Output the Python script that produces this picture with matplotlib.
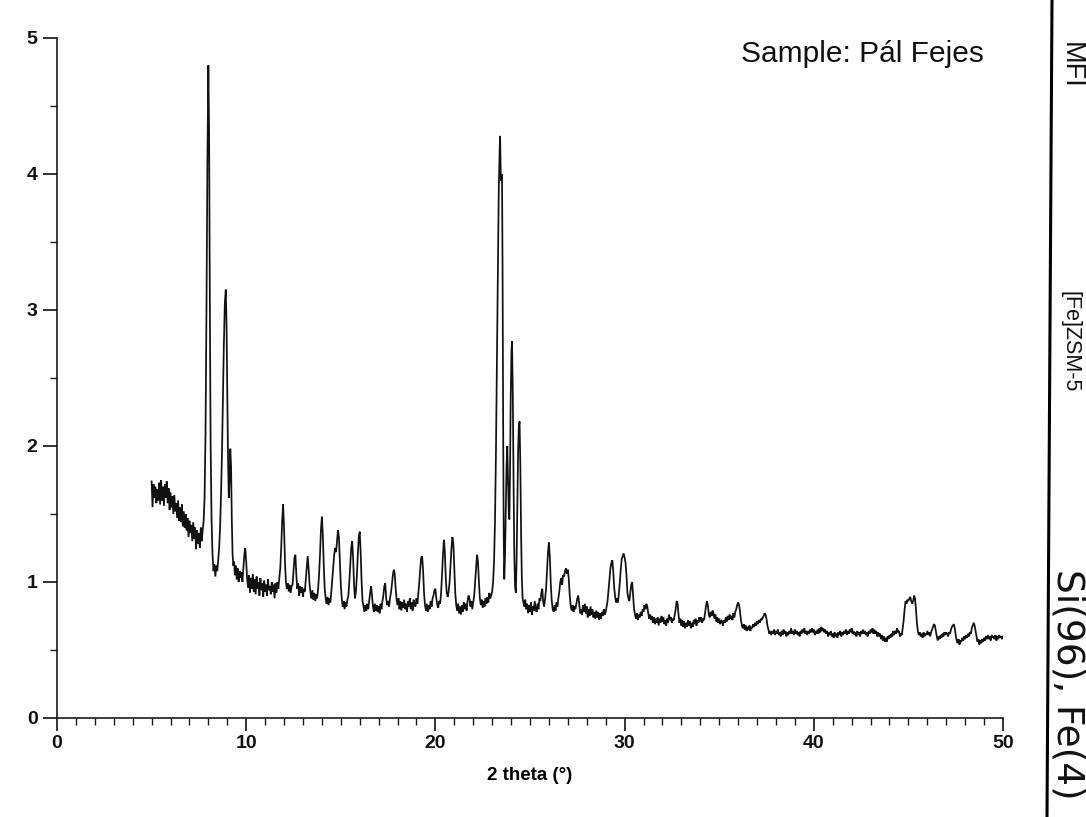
import matplotlib
matplotlib.use("Agg")
import matplotlib.pyplot as plt
from matplotlib.ticker import MultipleLocator
from matplotlib.lines import Line2D

# ---- data: (2 theta, intensity) ----
low_angle = [
    (5.00, 1.74), (5.05, 1.55), (5.10, 1.72), (5.15, 1.62), (5.20, 1.70), (5.25, 1.58), (5.30, 1.68), (5.35, 1.60),
    (5.40, 1.73), (5.45, 1.57), (5.50, 1.75), (5.55, 1.60), (5.60, 1.70), (5.65, 1.56), (5.70, 1.72), (5.75, 1.62),
    (5.80, 1.74), (5.85, 1.58), (5.90, 1.69), (5.95, 1.53), (6.00, 1.66), (6.05, 1.55), (6.10, 1.63), (6.15, 1.50),
    (6.20, 1.64), (6.25, 1.52), (6.30, 1.58), (6.35, 1.47), (6.40, 1.60), (6.45, 1.45), (6.50, 1.55), (6.55, 1.44),
    (6.60, 1.57), (6.65, 1.41), (6.70, 1.52), (6.75, 1.40), (6.80, 1.50), (6.85, 1.38), (6.90, 1.47), (6.95, 1.33),
    (7.00, 1.45), (7.05, 1.36), (7.10, 1.42), (7.15, 1.30), (7.20, 1.44), (7.25, 1.32), (7.30, 1.40), (7.35, 1.24),
    (7.40, 1.38), (7.45, 1.28), (7.50, 1.36), (7.55, 1.25), (7.60, 1.40), (7.65, 1.30), (7.70, 1.38),
]
first_peaks = [
    (7.75, 1.45), (7.80, 1.62), (7.85, 2.10), (7.90, 3.00), (7.95, 4.10), (8.00, 4.80), (8.04, 4.30), (8.08, 3.00),
    (8.12, 2.00), (8.17, 1.45), (8.22, 1.20), (8.27, 1.08), (8.32, 1.13), (8.37, 1.04), (8.42, 1.12), (8.47, 1.08),
    (8.52, 1.16), (8.57, 1.25), (8.62, 1.40), (8.67, 1.65), (8.72, 1.95), (8.77, 2.35), (8.82, 2.75), (8.87, 3.05),
    (8.92, 3.15), (8.96, 2.90), (9.00, 2.40), (9.04, 1.90), (9.08, 1.62), (9.12, 1.75), (9.16, 1.98), (9.20, 1.85),
    (9.24, 1.45), (9.28, 1.20), (9.32, 1.12), (9.36, 1.15), (9.40, 1.05), (9.45, 1.12), (9.50, 1.02), (9.55, 1.10),
    (9.60, 1.00), (9.65, 1.08), (9.70, 1.03), (9.75, 1.07), (9.80, 1.00), (9.85, 1.10), (9.90, 1.20), (9.95, 1.25),
    (10.00, 1.15), (10.05, 1.02),
]
mid_angle = [
    (10.10, 0.96), (10.15, 1.05), (10.20, 0.92), (10.25, 1.03), (10.30, 0.95), (10.35, 1.06), (10.40, 0.93), (10.45, 1.02),
    (10.50, 0.91), (10.55, 1.04), (10.60, 0.95), (10.65, 1.00), (10.70, 0.90), (10.75, 1.03), (10.80, 0.94), (10.85, 0.99),
    (10.90, 0.89), (10.95, 1.01), (11.00, 0.93), (11.05, 0.98), (11.10, 0.90), (11.15, 1.02), (11.20, 0.94), (11.25, 0.97),
    (11.30, 0.91), (11.35, 1.00), (11.40, 0.93), (11.45, 0.98), (11.50, 0.88), (11.55, 0.99), (11.60, 0.92), (11.65, 1.00),
    (11.70, 0.95), (11.75, 1.03), (11.80, 1.10), (11.85, 1.25), (11.90, 1.45), (11.95, 1.57), (12.00, 1.40), (12.05, 1.15),
    (12.10, 1.00), (12.15, 0.95), (12.20, 0.99), (12.25, 0.93), (12.30, 0.98), (12.35, 0.92), (12.40, 0.97), (12.45, 0.98),
    (12.50, 1.08), (12.55, 1.18), (12.60, 1.20), (12.65, 1.05), (12.70, 0.95), (12.75, 0.99), (12.80, 0.90), (12.85, 0.97),
    (12.90, 0.92), (12.95, 0.96), (13.00, 0.89), (13.05, 0.95), (13.10, 0.93), (13.15, 1.02), (13.20, 1.12), (13.25, 1.19),
    (13.30, 1.10), (13.35, 0.98), (13.40, 0.92), (13.45, 0.88), (13.50, 0.94), (13.55, 0.87), (13.60, 0.92), (13.65, 0.86),
    (13.70, 0.91), (13.75, 0.88), (13.80, 0.95), (13.85, 1.05), (13.90, 1.20), (13.95, 1.38), (14.00, 1.48), (14.05, 1.35),
    (14.10, 1.12), (14.15, 0.95), (14.20, 0.88), (14.25, 0.84), (14.30, 0.89), (14.35, 0.83), (14.40, 0.88), (14.45, 0.85),
    (14.50, 0.93), (14.55, 1.02), (14.60, 1.12), (14.65, 1.20), (14.70, 1.25), (14.75, 1.22), (14.80, 1.30), (14.85, 1.38),
    (14.90, 1.33), (14.95, 1.15), (15.00, 0.98), (15.05, 0.88), (15.10, 0.82), (15.15, 0.86), (15.20, 0.80), (15.25, 0.85),
    (15.30, 0.82), (15.35, 0.87), (15.40, 0.90), (15.45, 1.00), (15.50, 1.12), (15.55, 1.25), (15.60, 1.30), (15.65, 1.18),
    (15.70, 0.98), (15.75, 0.88), (15.80, 0.93), (15.85, 1.05), (15.90, 1.20), (15.95, 1.33), (16.00, 1.37), (16.05, 1.22),
    (16.10, 1.00), (16.15, 0.86), (16.20, 0.82), (16.25, 0.78), (16.30, 0.83), (16.35, 0.79), (16.40, 0.84), (16.45, 0.80),
    (16.50, 0.86), (16.55, 0.92), (16.60, 0.97), (16.65, 0.90), (16.70, 0.82), (16.75, 0.78), (16.80, 0.84), (16.85, 0.79),
    (16.90, 0.83), (16.95, 0.78), (17.00, 0.82), (17.05, 0.77), (17.10, 0.84), (17.15, 0.80), (17.20, 0.86), (17.25, 0.90),
    (17.30, 0.97), (17.35, 0.99), (17.40, 0.88), (17.45, 0.83), (17.50, 0.86), (17.55, 0.82), (17.60, 0.88), (17.65, 0.92),
    (17.70, 0.98), (17.75, 1.05), (17.80, 1.09), (17.85, 1.06), (17.90, 0.95), (17.95, 0.87), (18.00, 0.83), (18.05, 0.88),
    (18.10, 0.80), (18.15, 0.86), (18.20, 0.79), (18.25, 0.85), (18.30, 0.81), (18.35, 0.87), (18.40, 0.80), (18.45, 0.84),
    (18.50, 0.78), (18.55, 0.86), (18.60, 0.82), (18.65, 0.88), (18.70, 0.80), (18.75, 0.85), (18.80, 0.79), (18.85, 0.87),
    (18.90, 0.83), (18.95, 0.82), (19.00, 0.88), (19.05, 0.84), (19.10, 0.92), (19.15, 1.00), (19.20, 1.10), (19.25, 1.18),
    (19.30, 1.19), (19.35, 1.08), (19.40, 0.92), (19.45, 0.83), (19.50, 0.79), (19.55, 0.84), (19.60, 0.78), (19.65, 0.83),
    (19.70, 0.80), (19.75, 0.86), (19.80, 0.82), (19.85, 0.88), (19.90, 0.90), (19.95, 0.94), (20.00, 0.95), (20.05, 0.88),
    (20.10, 0.83), (20.15, 0.81), (20.20, 0.86), (20.25, 0.84), (20.30, 0.92), (20.35, 1.05), (20.40, 1.20), (20.45, 1.31),
    (20.50, 1.22), (20.55, 1.02), (20.60, 0.92), (20.65, 0.89), (20.70, 0.93), (20.75, 1.00), (20.80, 1.12), (20.85, 1.25),
    (20.90, 1.33), (20.95, 1.28), (21.00, 1.10), (21.05, 0.92), (21.10, 0.83), (21.15, 0.79), (21.20, 0.84), (21.25, 0.77),
    (21.30, 0.82), (21.35, 0.76), (21.40, 0.83), (21.45, 0.78), (21.50, 0.85), (21.55, 0.80), (21.60, 0.84), (21.65, 0.79),
    (21.70, 0.86), (21.75, 0.90), (21.80, 0.88), (21.85, 0.82), (21.90, 0.86), (21.95, 0.80), (22.00, 0.85), (22.05, 0.90),
    (22.10, 1.00), (22.15, 1.10), (22.20, 1.20), (22.25, 1.15), (22.30, 1.00), (22.35, 0.88), (22.40, 0.83), (22.45, 0.87),
    (22.50, 0.81), (22.55, 0.86), (22.60, 0.82), (22.65, 0.88), (22.70, 0.84), (22.75, 0.89), (22.80, 0.85), (22.85, 0.92),
    (22.90, 0.88),
]
main_cluster = [
    (22.95, 0.90), (23.00, 0.93), (23.05, 1.00), (23.10, 1.15), (23.15, 1.45), (23.20, 1.95), (23.25, 2.60), (23.30, 3.30),
    (23.35, 3.90), (23.40, 4.20), (23.42, 4.28), (23.46, 3.95), (23.50, 3.98), (23.52, 4.00), (23.55, 3.30), (23.58, 2.20),
    (23.61, 1.35), (23.64, 1.02), (23.68, 1.20), (23.72, 1.55), (23.76, 1.85), (23.80, 2.00), (23.84, 1.75), (23.88, 1.50),
    (23.91, 1.46), (23.94, 1.75), (23.98, 2.35), (24.02, 2.70), (24.05, 2.77), (24.09, 2.40), (24.13, 1.75), (24.17, 1.20),
    (24.21, 0.97), (24.25, 0.92), (24.29, 1.15), (24.33, 1.55), (24.37, 1.95), (24.41, 2.15), (24.45, 2.18), (24.49, 1.85),
    (24.53, 1.35), (24.57, 1.02), (24.61, 0.88), (24.65, 0.85),
]
upper_mid = [
    (24.70, 0.82), (24.75, 0.87), (24.80, 0.80), (24.85, 0.84), (24.90, 0.77), (24.95, 0.83), (25.00, 0.78), (25.05, 0.85),
    (25.10, 0.76), (25.15, 0.82), (25.20, 0.79), (25.25, 0.86), (25.30, 0.80), (25.35, 0.78), (25.40, 0.84), (25.45, 0.80),
    (25.50, 0.88), (25.55, 0.86), (25.60, 0.92), (25.65, 0.95), (25.70, 0.85), (25.75, 0.82), (25.80, 0.88), (25.85, 0.95),
    (25.90, 1.08), (25.95, 1.22), (26.00, 1.29), (26.05, 1.18), (26.10, 0.98), (26.15, 0.86), (26.20, 0.80), (26.25, 0.78),
    (26.30, 0.83), (26.35, 0.79), (26.40, 0.85), (26.45, 0.82), (26.50, 0.88), (26.55, 0.93), (26.60, 1.00), (26.65, 1.03),
    (26.70, 0.98), (26.75, 1.05), (26.80, 1.04), (26.85, 1.08), (26.90, 1.10), (26.95, 1.06), (27.00, 1.09), (27.05, 1.02),
    (27.10, 0.90), (27.15, 0.83), (27.20, 0.79), (27.25, 0.83), (27.30, 0.78), (27.35, 0.82), (27.40, 0.80), (27.45, 0.84),
    (27.50, 0.88), (27.55, 0.90), (27.60, 0.84), (27.65, 0.77), (27.70, 0.80), (27.75, 0.76), (27.80, 0.83), (27.85, 0.78),
    (27.90, 0.84), (27.95, 0.77), (28.00, 0.82), (28.05, 0.74), (28.10, 0.80), (28.15, 0.75), (28.20, 0.82), (28.25, 0.76),
    (28.30, 0.80), (28.35, 0.74), (28.40, 0.78), (28.45, 0.73), (28.50, 0.79), (28.55, 0.74), (28.60, 0.78), (28.65, 0.72),
    (28.70, 0.77), (28.75, 0.73), (28.80, 0.78), (28.85, 0.75), (28.90, 0.80), (28.95, 0.76), (29.00, 0.78), (29.05, 0.82),
    (29.10, 0.86), (29.15, 0.94), (29.20, 1.02), (29.25, 1.10), (29.30, 1.14), (29.35, 1.16), (29.40, 1.08), (29.45, 0.96),
    (29.50, 0.89), (29.55, 0.85), (29.60, 0.88), (29.65, 0.85), (29.70, 0.92), (29.75, 1.00), (29.80, 1.10), (29.85, 1.17),
    (29.90, 1.19), (29.95, 1.21), (30.00, 1.18), (30.05, 1.14), (30.10, 1.05), (30.15, 0.92), (30.20, 0.88), (30.25, 0.86),
    (30.30, 0.92), (30.35, 0.98), (30.40, 1.00), (30.45, 0.90), (30.50, 0.80), (30.55, 0.76),
]
high_baseline = [
    (30.60, 0.73), (30.65, 0.77), (30.70, 0.72), (30.75, 0.76), (30.80, 0.74), (30.85, 0.78), (30.90, 0.75), (30.95, 0.80),
    (31.00, 0.78), (31.05, 0.83), (31.10, 0.80), (31.15, 0.84), (31.20, 0.82), (31.25, 0.77), (31.30, 0.73), (31.35, 0.76),
    (31.40, 0.72), (31.45, 0.75), (31.50, 0.70), (31.55, 0.74), (31.60, 0.69), (31.65, 0.73), (31.70, 0.70), (31.75, 0.74),
    (31.80, 0.68), (31.85, 0.73), (31.90, 0.70), (31.95, 0.75), (32.00, 0.71), (32.05, 0.74), (32.10, 0.69), (32.15, 0.72),
    (32.20, 0.68), (32.25, 0.73), (32.30, 0.70), (32.35, 0.76), (32.40, 0.72), (32.45, 0.74), (32.50, 0.70), (32.55, 0.73),
    (32.60, 0.72), (32.65, 0.76), (32.70, 0.80), (32.75, 0.86), (32.80, 0.84), (32.85, 0.76), (32.90, 0.70), (32.95, 0.73),
    (33.00, 0.68), (33.05, 0.72), (33.10, 0.67), (33.15, 0.71), (33.20, 0.66), (33.25, 0.70), (33.30, 0.67), (33.35, 0.72),
    (33.40, 0.68), (33.45, 0.71), (33.50, 0.66), (33.55, 0.70), (33.60, 0.67), (33.65, 0.72), (33.70, 0.69), (33.75, 0.73),
    (33.80, 0.68), (33.85, 0.72), (33.90, 0.70), (33.95, 0.74), (34.00, 0.71), (34.05, 0.74), (34.10, 0.70), (34.15, 0.73),
    (34.20, 0.72), (34.25, 0.77), (34.30, 0.82), (34.35, 0.86), (34.40, 0.83), (34.45, 0.76), (34.50, 0.74), (34.55, 0.78),
    (34.60, 0.75), (34.65, 0.79), (34.70, 0.77), (34.75, 0.73), (34.80, 0.76), (34.85, 0.71), (34.90, 0.74), (34.95, 0.70),
    (35.00, 0.73), (35.05, 0.69), (35.10, 0.72), (35.15, 0.71), (35.20, 0.68), (35.25, 0.72), (35.30, 0.70), (35.35, 0.74),
    (35.40, 0.71), (35.45, 0.75), (35.50, 0.72), (35.55, 0.76), (35.60, 0.73), (35.65, 0.75), (35.70, 0.72), (35.75, 0.77),
    (35.80, 0.74), (35.85, 0.78), (35.90, 0.80), (35.95, 0.83), (36.00, 0.85), (36.05, 0.83), (36.10, 0.78), (36.15, 0.72),
    (36.20, 0.68), (36.25, 0.66), (36.30, 0.69), (36.35, 0.65), (36.40, 0.68), (36.45, 0.64), (36.50, 0.67), (36.55, 0.65),
    (36.60, 0.68), (36.65, 0.64), (36.70, 0.67), (36.75, 0.66), (36.80, 0.69), (36.85, 0.67), (36.90, 0.70), (36.95, 0.68),
    (37.00, 0.71), (37.05, 0.69), (37.10, 0.72), (37.15, 0.70), (37.20, 0.73), (37.25, 0.72), (37.30, 0.74), (37.35, 0.75),
    (37.40, 0.77), (37.45, 0.76), (37.50, 0.73), (37.55, 0.68), (37.60, 0.65), (37.65, 0.62), (37.70, 0.64), (37.75, 0.61),
    (37.80, 0.64), (37.85, 0.62), (37.90, 0.65), (37.95, 0.61), (38.00, 0.64), (38.05, 0.62), (38.10, 0.65), (38.15, 0.61),
    (38.20, 0.63), (38.25, 0.60), (38.30, 0.64), (38.35, 0.61), (38.40, 0.65), (38.45, 0.62), (38.50, 0.64), (38.55, 0.60),
    (38.60, 0.63), (38.65, 0.61), (38.70, 0.64), (38.75, 0.62), (38.80, 0.66), (38.85, 0.62), (38.90, 0.64), (38.95, 0.61),
    (39.00, 0.65), (39.05, 0.62), (39.10, 0.64), (39.15, 0.61), (39.20, 0.63), (39.25, 0.60), (39.30, 0.64), (39.35, 0.62),
    (39.40, 0.65), (39.45, 0.63), (39.50, 0.66), (39.55, 0.62), (39.60, 0.64), (39.65, 0.61), (39.70, 0.64), (39.75, 0.62),
    (39.80, 0.65), (39.85, 0.63), (39.90, 0.66), (39.95, 0.63), (40.00, 0.65), (40.05, 0.61), (40.10, 0.64), (40.15, 0.62),
    (40.20, 0.65), (40.25, 0.62), (40.30, 0.66), (40.35, 0.63), (40.40, 0.67), (40.45, 0.64), (40.50, 0.66), (40.55, 0.63),
    (40.60, 0.65), (40.65, 0.62), (40.70, 0.64), (40.75, 0.60), (40.80, 0.63), (40.85, 0.61), (40.90, 0.64), (40.95, 0.60),
    (41.00, 0.62), (41.05, 0.59), (41.10, 0.63), (41.15, 0.60), (41.20, 0.62), (41.25, 0.59), (41.30, 0.63), (41.35, 0.61),
    (41.40, 0.64), (41.45, 0.60), (41.50, 0.63), (41.55, 0.61), (41.60, 0.64), (41.65, 0.62), (41.70, 0.65), (41.75, 0.61),
    (41.80, 0.64), (41.85, 0.62), (41.90, 0.65), (41.95, 0.63), (42.00, 0.66), (42.05, 0.62), (42.10, 0.64), (42.15, 0.61),
    (42.20, 0.63), (42.25, 0.60), (42.30, 0.64), (42.35, 0.61), (42.40, 0.63), (42.45, 0.60), (42.50, 0.64), (42.55, 0.62),
    (42.60, 0.65), (42.65, 0.62), (42.70, 0.64), (42.75, 0.61), (42.80, 0.63), (42.85, 0.60), (42.90, 0.64), (42.95, 0.62),
    (43.00, 0.65), (43.05, 0.63), (43.10, 0.66), (43.15, 0.62), (43.20, 0.65), (43.25, 0.62), (43.30, 0.64), (43.35, 0.60),
    (43.40, 0.63), (43.45, 0.60), (43.50, 0.62), (43.55, 0.58), (43.60, 0.61), (43.65, 0.57), (43.70, 0.60), (43.75, 0.56),
    (43.80, 0.59), (43.85, 0.56), (43.90, 0.60), (43.95, 0.58), (44.00, 0.61), (44.05, 0.59), (44.10, 0.62), (44.15, 0.60),
    (44.20, 0.64), (44.25, 0.61), (44.30, 0.64), (44.35, 0.62), (44.40, 0.66), (44.45, 0.63), (44.50, 0.64), (44.55, 0.60),
    (44.60, 0.62), (44.65, 0.61), (44.70, 0.66),
]
high_angle = [
    (44.75, 0.72), (44.80, 0.80), (44.85, 0.86), (44.90, 0.84), (44.95, 0.87), (45.00, 0.86), (45.05, 0.88), (45.10, 0.89),
    (45.15, 0.86), (45.20, 0.84), (45.25, 0.86), (45.30, 0.90), (45.35, 0.88), (45.40, 0.80), (45.45, 0.70), (45.50, 0.64),
    (45.55, 0.61), (45.60, 0.63), (45.65, 0.60), (45.70, 0.62), (45.75, 0.59), (45.80, 0.63), (45.85, 0.60), (45.90, 0.62),
    (45.95, 0.61), (46.00, 0.64), (46.05, 0.61), (46.10, 0.63), (46.15, 0.60), (46.20, 0.63), (46.25, 0.65), (46.30, 0.67),
    (46.35, 0.69), (46.40, 0.68), (46.45, 0.64), (46.50, 0.60), (46.55, 0.57), (46.60, 0.60), (46.65, 0.58), (46.70, 0.61),
    (46.75, 0.59), (46.80, 0.62), (46.85, 0.60), (46.90, 0.63), (46.95, 0.61), (47.00, 0.63), (47.05, 0.62), (47.10, 0.60),
    (47.15, 0.63), (47.20, 0.62), (47.25, 0.65), (47.30, 0.67), (47.35, 0.68), (47.40, 0.69), (47.45, 0.66), (47.50, 0.61),
    (47.55, 0.57), (47.60, 0.55), (47.65, 0.58), (47.70, 0.54), (47.75, 0.57), (47.80, 0.56), (47.85, 0.59), (47.90, 0.57),
    (47.95, 0.60), (48.00, 0.58), (48.05, 0.61), (48.10, 0.59), (48.15, 0.62), (48.20, 0.60), (48.25, 0.63), (48.30, 0.62),
    (48.35, 0.66), (48.40, 0.68), (48.45, 0.70), (48.50, 0.68), (48.55, 0.64), (48.60, 0.60), (48.65, 0.56), (48.70, 0.58),
    (48.75, 0.54), (48.80, 0.57), (48.85, 0.55), (48.90, 0.58), (48.95, 0.56), (49.00, 0.59), (49.05, 0.57), (49.10, 0.60),
    (49.15, 0.58), (49.20, 0.61), (49.25, 0.58), (49.30, 0.60), (49.35, 0.57), (49.40, 0.61), (49.45, 0.59), (49.50, 0.60),
    (49.55, 0.58), (49.60, 0.61), (49.65, 0.57), (49.70, 0.60), (49.75, 0.58), (49.80, 0.61), (49.85, 0.59), (49.90, 0.60),
    (49.95, 0.58), (50.00, 0.60),
]

x_major_ticks = [0, 10, 20, 30, 40, 50]
y_major_ticks = [0, 1, 2, 3, 4, 5]
x_label = "2 theta (°)"
sample_label = "Sample: Pál Fejes"
framework_code = "MFI"
material_name = "[Fe]ZSM-5"
composition = "Si(96), Fe(4)"

segments = [low_angle, first_peaks, mid_angle, main_cluster, upper_mid, high_baseline, high_angle]
two_theta = [p[0] for seg in segments for p in seg]
intensity = [p[1] for seg in segments for p in seg]

# ---- figure ----
W, H = 1086, 817
fig = plt.figure(figsize=(W / 100, H / 100), dpi=100)
fig.patch.set_facecolor("white")
ax = fig.add_axes([57 / W, 99 / H, 946 / W, 680 / H])

ax.plot(two_theta, intensity, color="#111111", lw=1.25, solid_joinstyle="miter")

ax.set_xlim(0, 50)
ax.set_ylim(0, 5)
ax.set_xticks(x_major_ticks)
ax.set_yticks(y_major_ticks)
ax.xaxis.set_minor_locator(MultipleLocator(1))
ax.yaxis.set_minor_locator(MultipleLocator(0.5))
for s in ["top", "right"]:
    ax.spines[s].set_visible(False)
for s in ["left", "bottom"]:
    ax.spines[s].set_linewidth(1.2)
    ax.spines[s].set_color("#1a1a1a")

ax.tick_params(axis="x", which="major", direction="out", length=9, width=1.2, pad=3, colors="#111111")
ax.tick_params(axis="x", which="minor", direction="out", length=5, width=1.0, colors="#1a1a1a")
ax.tick_params(axis="y", which="major", direction="out", length=10, width=1.2, pad=4, colors="#111111")
ax.tick_params(axis="y", which="minor", direction="out", length=5, width=1.0, colors="#1a1a1a")
for lab in ax.get_xticklabels() + ax.get_yticklabels():
    lab.set_fontfamily("Liberation Sans")
    lab.set_fontweight("bold")
    lab.set_fontsize(14)

ax.set_xlabel(x_label, fontsize=13.5, fontweight="bold", family="Liberation Sans", labelpad=11)

fig.text(741 / W, 1 - 62 / H, sample_label, fontsize=21.5, family="Liberation Sans",
         ha="left", va="baseline", color="#111111")

# right margin bar and rotated labels
fig.add_artist(Line2D([1052 / W, 1047 / W], [1.0, 0.0], transform=fig.transFigure,
                      color="black", lw=2.2))
fig.text(1071 / W, 1 - 65 / H, framework_code, rotation=-90, ha="center", va="center",
         fontsize=19.5, family="Liberation Sans", color="#111111")
fig.text(1070 / W, 1 - 342 / H, material_name, rotation=-90, ha="center", va="center",
         fontsize=15.5, family="Liberation Sans", color="#111111")
fig.text(1068 / W, 1 - 684 / H, composition, rotation=-90, ha="center", va="center",
         fontsize=27, family="DejaVu Sans", color="#111111")

fig.savefig("out.png", dpi=100, facecolor="white")
